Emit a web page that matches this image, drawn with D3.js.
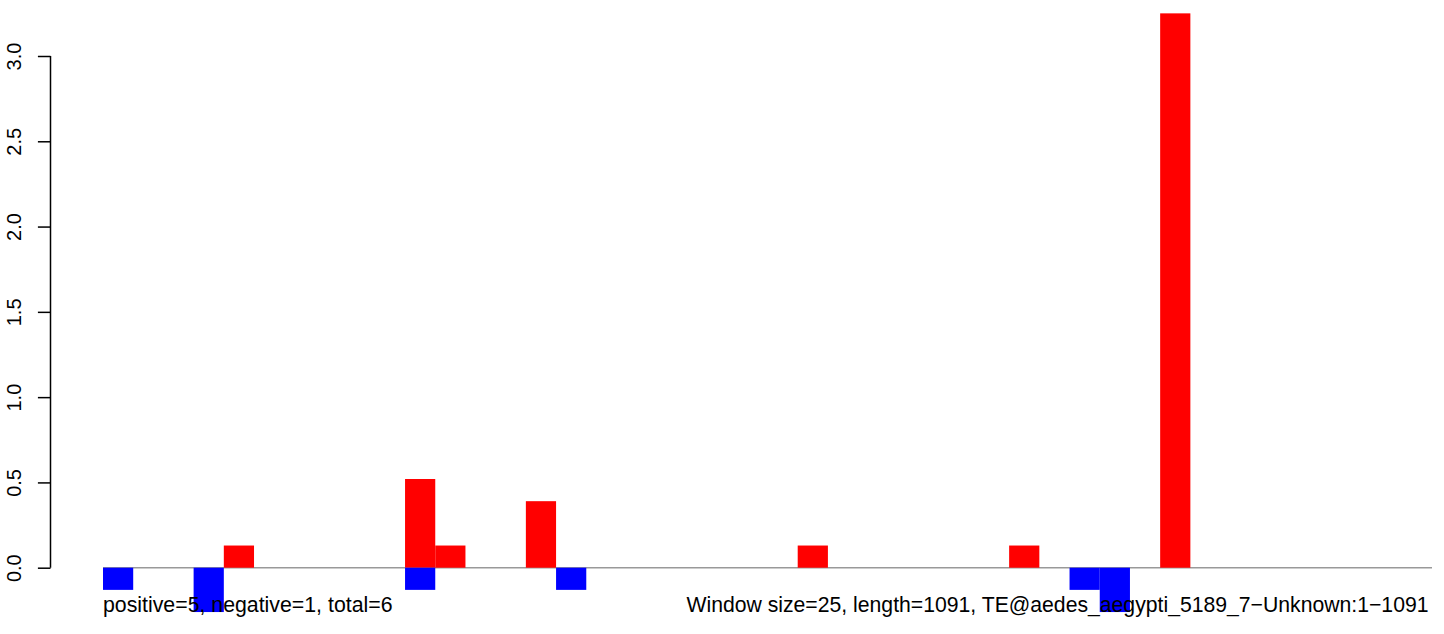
<!DOCTYPE html>
<html>
<head>
<meta charset="utf-8">
<script src="https://cdn.jsdelivr.net/npm/d3@7/dist/d3.min.js"></script>
<style>
  html, body { margin: 0; padding: 0; background: #fff; }
  svg { display: block; font-family: "Liberation Sans", Arial, sans-serif; }
</style>
</head>
<body>
<svg id="chart" width="1444" height="634"></svg>
<script>
// one value per window (window size 25, 44 windows)
const positive = [
  0, 0, 0, 0, 0.13, 0, 0, 0, 0, 0,
  0.52, 0.13, 0, 0, 0.39, 0, 0, 0, 0, 0,
  0, 0, 0, 0.13, 0, 0, 0, 0, 0, 0,
  0.13, 0, 0, 0, 0, 3.25, 0, 0, 0, 0,
  0, 0, 0, 0
]
const negative = [
  -0.13, 0, 0, -0.26, 0, 0, 0, 0, 0, 0,
  -0.13, 0, 0, 0, 0, -0.13, 0, 0, 0, 0,
  0, 0, 0, 0, 0, 0, 0, 0, 0, 0,
  0, 0, -0.13, -0.26, 0, 0, 0, 0, 0, 0,
  0, 0, 0, 0
]
const yTicks = [ 0, 0.5, 1, 1.5, 2, 2.5, 3 ]
const leftLabel = 'positive=5, negative=1, total=6'
const rightLabel = 'Window size=25, length=1091, TE@aedes_aegypti_5189_7\u2212Unknown:1\u22121091'

const svg = d3.select('#chart')

const x = d3.scaleLinear()
    .domain( [ 0, positive.length ] )
    .range( [ 103, 1432 ] )

const y = d3.scaleLinear()
    .domain( [ 0, 3 ] )
    .range( [ 567.7, 56 ] )

// zero line sits under the bars
svg.append( 'line' )
    .attr( 'x1', x(0) )
    .attr( 'x2', x( positive.length ) )
    .attr( 'y1', y(0) )
    .attr( 'y2', y(0) )
    .style( 'stroke', '#999' )
    .style( 'stroke-width', 1.5 )

const bars = svg.append( 'g' )

bars.selectAll( 'rect.pos' )
    .data( positive.map( ( v, i ) => ( { v, i } ) ).filter( d => d.v > 0 ) )
    .enter().append( 'rect' )
    .attr( 'class', 'pos' )
    .attr( 'x', d => x( d.i ) )
    .attr( 'width', d => x( d.i + 1 ) - x( d.i ) )
    .attr( 'y', d => y( d.v ) )
    .attr( 'height', d => y(0) - y( d.v ) )
    .style( 'fill', '#ff0000' )

bars.selectAll( 'rect.neg' )
    .data( negative.map( ( v, i ) => ( { v, i } ) ).filter( d => d.v < 0 ) )
    .enter().append( 'rect' )
    .attr( 'class', 'neg' )
    .attr( 'x', d => x( d.i ) )
    .attr( 'width', d => x( d.i + 1 ) - x( d.i ) )
    .attr( 'y', y(0) )
    .attr( 'height', d => y( d.v ) - y(0) )
    .style( 'fill', '#0000ff' )

// y axis, R style: ticks out to the left, labels turned
const yAxis = d3.axisLeft( y )
    .tickValues( yTicks )
    .tickFormat( d3.format( '.1f' ) )
    .tickSize( 12.6 )
    .tickSizeOuter( 0 )

const axisG = svg.append( 'g' )
    .attr( 'transform', 'translate(50.5,0)' )
    .call( yAxis )

axisG.select( '.domain' )
    .attr( 'd', `M0,${ y(3) }V${ y(0) }` )
    .style( 'stroke', '#000' )
    .style( 'stroke-width', 1.5 )

axisG.selectAll( '.tick line' )
    .style( 'stroke', '#000' )
    .style( 'stroke-width', 1.5 )

axisG.selectAll( '.tick text' )
    .attr( 'x', null )
    .attr( 'dy', null )
    .attr( 'transform', 'translate(-29.8,0) rotate(-90)' )
    .attr( 'text-anchor', 'middle' )
    .style( 'font-family', '"Liberation Sans", Arial, sans-serif' )
    .style( 'font-size', '20px' )
    .style( 'fill', '#000' )

// captions under the plot
svg.append( 'text' )
    .attr( 'x', x(0) )
    .attr( 'y', 612 )
    .style( 'font-size', '21.3px' )
    .style( 'fill', '#000' )
    .text( leftLabel )

svg.append( 'text' )
    .attr( 'x', 1428.5 )
    .attr( 'y', 612 )
    .attr( 'text-anchor', 'end' )
    .style( 'font-size', '21.2px' )
    .style( 'fill', '#000' )
    .text( rightLabel )
</script>
</body>
</html>
